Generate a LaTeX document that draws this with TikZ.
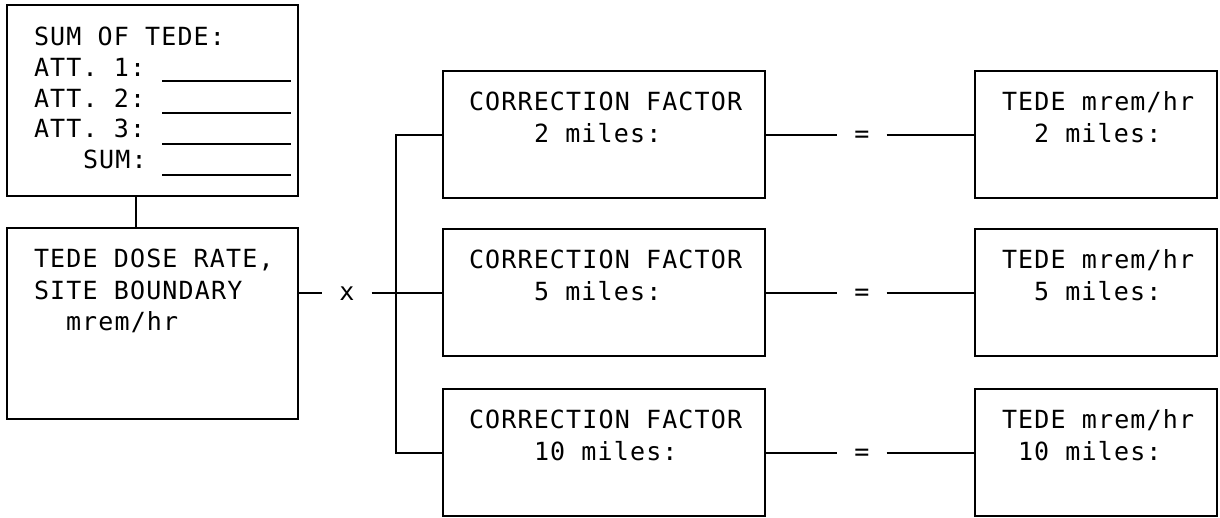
\documentclass[tikz,border=0pt]{standalone}
\usepackage{fontspec}
\newfontfamily\formfont{DejaVu Sans Mono}[LetterSpace=4.6]
\begin{document}
\begin{tikzpicture}[x=1pt,y=-1pt,line width=2pt,
  box/.style={draw,rectangle,inner sep=0pt,outer sep=0pt,anchor=north west},
  sumbox/.style={box,minimum width=291pt,minimum height=191pt},
  cfbox/.style={box,minimum width=322pt,minimum height=127pt},
  resbox/.style={box,minimum width=242pt,minimum height=127pt},
  txt/.style={anchor=base west,inner sep=0pt,font=\formfont\fontsize{25}{30}\selectfont},
  op/.style={anchor=base,inner xsep=16pt,inner ysep=0pt,font=\formfont\fontsize{25}{30}\selectfont}]
\useasboundingbox (0,0) rectangle (1220,517);

% left column: dose summation and site boundary rate
\node[sumbox] (sum) at (7,5) {};
\node[sumbox] (dose) at (7,228) {};

\node[txt] (s0) at (33,45)  {SUM OF TEDE:};
\node[txt] (s1) at (33,76)  {ATT. 1:};
\node[txt] (s2) at (33,107) {ATT. 2:};
\node[txt] (s3) at (33,137) {ATT. 3:};
\node[txt] (s4) at (82,168) {SUM:};
\foreach \yy in {81,113,144,175} \draw (162,\yy) -- (291,\yy);

\node[txt] (d1) at (33,267) {TEDE DOSE RATE,};
\node[txt] (d2) at (33,299) {SITE BOUNDARY};
\node[txt] (d3) at (65,330) {mrem/hr};

% correction factor boxes
\node[cfbox] (cf1) at (443,71)  {};
\node[cfbox] (cf2) at (443,229) {};
\node[cfbox] (cf3) at (443,389) {};

\node[txt] at (468,110) {CORRECTION FACTOR};
\node[txt] at (533,142) {2 miles:};
\node[txt] at (468,268) {CORRECTION FACTOR};
\node[txt] at (533,300) {5 miles:};
\node[txt] at (468,428) {CORRECTION FACTOR};
\node[txt] at (533,460) {10 miles:};

% result boxes
\node[resbox] (r1) at (975,71)  {};
\node[resbox] (r2) at (975,229) {};
\node[resbox] (r3) at (975,389) {};

\node[txt] at (1001,110) {TEDE mrem/hr};
\node[txt] at (1033,142) {2 miles:};
\node[txt] at (1001,268) {TEDE mrem/hr};
\node[txt] at (1033,300) {5 miles:};
\node[txt] at (1001,428) {TEDE mrem/hr};
\node[txt] at (1017,460) {10 miles:};

% operators
\node[op] (times) at (347,300) {x};
\node[op] (eq1) at (862,142) {=};
\node[op] (eq2) at (862,300) {=};
\node[op] (eq3) at (862,460) {=};

% connectors
\coordinate (j) at (136,0);
\coordinate (bus) at (396,0);
\draw (sum.south -| j) -- (dose.north -| j);
\draw (dose.east |- cf2.west) -- (cf2.west -| times.west);
\draw (cf2.west -| times.east) -- (cf2.west);
\draw (cf1.west) -- (cf1.west -| bus) -- (cf3.west -| bus) -- (cf3.west);
\foreach \i in {1,2,3} {
  \draw (cf\i.east) -- (cf\i.east -| eq\i.west);
  \draw (cf\i.east -| eq\i.east) -- (r\i.west);
}
\end{tikzpicture}
\end{document}
